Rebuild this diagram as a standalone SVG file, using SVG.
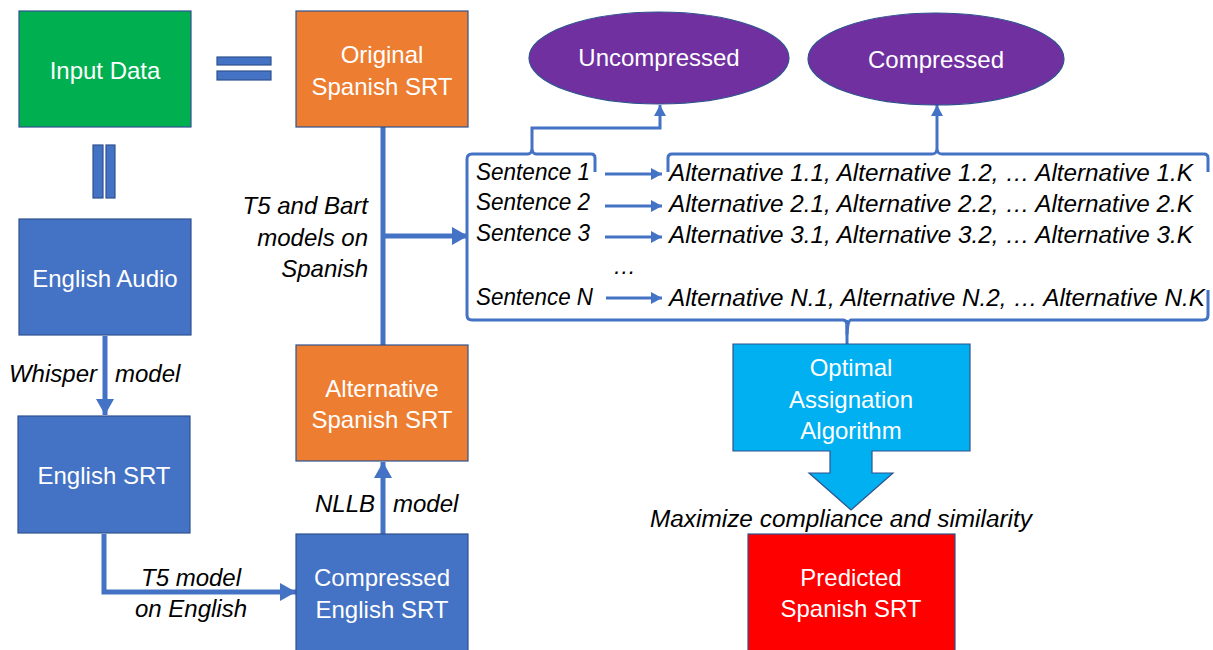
<svg xmlns="http://www.w3.org/2000/svg" width="1213" height="650" viewBox="0 0 1213 650">
<style>
.box{stroke:#2F528F;stroke-width:1.2}
.t{font-family:"Liberation Sans",Arial,sans-serif;font-size:24px;fill:#fff;text-anchor:middle}
.it{font-family:"Liberation Sans",Arial,sans-serif;font-size:24px;font-style:italic;fill:#000}
.its{font-family:"Liberation Sans",Arial,sans-serif;font-size:23px;font-style:italic;fill:#000}
.thick{fill:none;stroke:#4472C4;stroke-width:5}
.thin{fill:none;stroke:#4472C4;stroke-width:3}
.br{fill:none;stroke:#4472C4;stroke-width:3;stroke-linejoin:round}
</style>
<defs>
<marker id="ah" markerUnits="userSpaceOnUse" markerWidth="18" markerHeight="20" refX="16" refY="9" orient="auto"><path d="M0,0 L16,9 L0,18 Z" fill="#4472C4"/></marker>
<marker id="ahs" markerUnits="userSpaceOnUse" markerWidth="12" markerHeight="14" refX="11" refY="6" orient="auto"><path d="M0,0 L11,6 L0,12 Z" fill="#4472C4"/></marker>
</defs>
<rect width="1213" height="650" fill="#fff"/>

<g id="connectors">
<path class="thick" d="M105,336 V415" marker-end="url(#ah)"/>
<path class="thick" d="M104,534 V592 H296" marker-end="url(#ah)"/>
<path class="thick" d="M383,534 V462" marker-end="url(#ah)"/>
<path class="thick" d="M383,127 V345"/>
<path class="thick" d="M383,236 H468" marker-end="url(#ah)"/>
<path class="thin" d="M605,174 H662" marker-end="url(#ahs)"/>
<path class="thin" d="M605,206 H662" marker-end="url(#ahs)"/>
<path class="thin" d="M605,237 H662" marker-end="url(#ahs)"/>
<path class="thin" d="M606,298 H662" marker-end="url(#ahs)"/>
<path class="thin" d="M532,153 V128 H660 V105" marker-end="url(#ahs)"/>
<path class="thin" d="M937,153 V105" marker-end="url(#ahs)"/>
<path class="br" d="M595,172 V158 Q595,154 591,154 H536 Q533,154 532,150 Q531,154 528,154 H472 Q467,154 467,159 V315 Q467,320 472,320 H843 Q846,320 847,324 V334 Q848,320 851,320 H1203 Q1208,320 1208,315 V290"/>
<path class="br" d="M668,172 V158 Q668,154 672,154 H932 Q936,154 937,150 Q938,154 942,154 H1204 Q1208,154 1208,158 V172"/>
<path class="br" d="M847,320 V344"/>
</g>

<g id="input-data"><rect class="box" x="19" y="11" width="172" height="116" fill="#00B050"/><text class="t" x="105" y="79">Input Data</text></g>
<g id="equals"><rect class="box" x="217" y="57" width="54" height="8" fill="#4472C4"/><rect class="box" x="217" y="71" width="54" height="9" fill="#4472C4"/></g>
<g id="parallel"><rect class="box" x="93" y="145" width="10" height="53" fill="#4472C4"/><rect class="box" x="106" y="145" width="9" height="53" fill="#4472C4"/></g>
<g id="original-spanish-srt"><rect class="box" x="296" y="11" width="172" height="116" fill="#ED7D31"/><text class="t" x="382" y="63">Original</text><text class="t" x="382" y="95">Spanish SRT</text></g>
<g id="english-audio"><rect class="box" x="19" y="219" width="172" height="116" fill="#4472C4"/><text class="t" x="105" y="287">English Audio</text></g>
<g id="english-srt"><rect class="box" x="18" y="416" width="172" height="117" fill="#4472C4"/><text class="t" x="104" y="484">English SRT</text></g>
<g id="alternative-spanish-srt"><rect class="box" x="296" y="345" width="172" height="116" fill="#ED7D31"/><text class="t" x="382" y="397">Alternative</text><text class="t" x="382" y="428">Spanish SRT</text></g>
<g id="compressed-english-srt"><rect class="box" x="296" y="534" width="172" height="120" fill="#4472C4"/><text class="t" x="382" y="586">Compressed</text><text class="t" x="382" y="618">English SRT</text></g>
<g id="uncompressed"><ellipse class="box" cx="659" cy="58" rx="130" ry="46" fill="#7030A0"/><text class="t" x="659" y="66">Uncompressed</text></g>
<g id="compressed"><ellipse class="box" cx="936" cy="59" rx="128" ry="46" fill="#7030A0"/><text class="t" x="936" y="68">Compressed</text></g>
<g id="optimal-assignation"><path class="box" d="M733,344 H970 V451 H872 V473 H893 L851,510 L809,473 H830 V451 H733 Z" fill="#00B0F0"/><text class="t" x="851" y="376">Optimal</text><text class="t" x="851" y="408">Assignation</text><text class="t" x="851" y="439">Algorithm</text></g>
<g id="predicted-spanish-srt"><rect class="box" x="748" y="534" width="207" height="120" fill="#FF0000"/><text class="t" x="851" y="586">Predicted</text><text class="t" x="851" y="617">Spanish SRT</text></g>

<g id="labels">
<text class="it" x="97" y="382" text-anchor="end">Whisper</text>
<text class="it" x="115" y="382">model</text>
<text class="it" x="368" y="214" text-anchor="end">T5 and Bart</text>
<text class="it" x="368" y="246" text-anchor="end">models on</text>
<text class="it" x="368" y="277" text-anchor="end">Spanish</text>
<text class="it" x="375" y="512" text-anchor="end">NLLB</text>
<text class="it" x="393" y="512">model</text>
<text class="it" x="191" y="586" text-anchor="middle">T5 model</text>
<text class="it" x="191" y="617" text-anchor="middle">on English</text>
<text class="its" x="476" y="180" textLength="114" lengthAdjust="spacingAndGlyphs">Sentence 1</text>
<text class="its" x="476" y="210" textLength="114" lengthAdjust="spacingAndGlyphs">Sentence 2</text>
<text class="its" x="476" y="241" textLength="114" lengthAdjust="spacingAndGlyphs">Sentence 3</text>
<text class="its" x="613" y="274">…</text>
<text class="its" x="476" y="305" textLength="117" lengthAdjust="spacingAndGlyphs">Sentence N</text>
<text class="its" x="669" y="181" textLength="524" lengthAdjust="spacingAndGlyphs">Alternative 1.1, Alternative 1.2, … Alternative 1.K</text>
<text class="its" x="669" y="212" textLength="524" lengthAdjust="spacingAndGlyphs">Alternative 2.1, Alternative 2.2, … Alternative 2.K</text>
<text class="its" x="669" y="243" textLength="524" lengthAdjust="spacingAndGlyphs">Alternative 3.1, Alternative 3.2, … Alternative 3.K</text>
<text class="its" x="669" y="306" textLength="536" lengthAdjust="spacingAndGlyphs">Alternative N.1, Alternative N.2, … Alternative N.K</text>
<text class="its" x="650" y="527" textLength="382" lengthAdjust="spacingAndGlyphs">Maximize compliance and similarity</text>
</g>
</svg>
